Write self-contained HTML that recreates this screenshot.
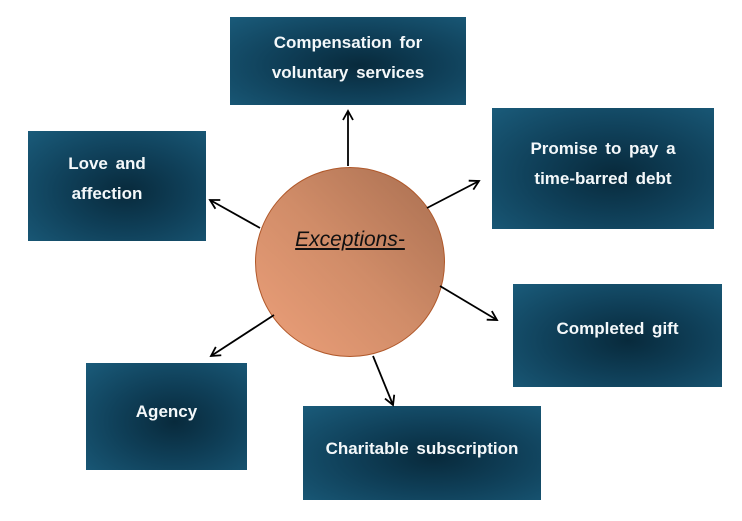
<!DOCTYPE html>
<html><head><style>
body{margin:0;width:742px;height:521px;background:#fff;position:relative;overflow:hidden;font-family:"Liberation Sans",sans-serif}
.b{position:absolute;background:radial-gradient(ellipse at 55% 55%,#082a3c 0%,#0f3f58 45%,#1a5b7a 100%);color:#f4f8fa;font-weight:bold;font-size:17px;line-height:30px;display:flex;align-items:center;justify-content:center;text-align:center;word-spacing:3px}
.c{position:absolute;left:255px;top:167px;width:188px;height:188px;border-radius:50%;border:1.5px solid #b0582a;background:linear-gradient(225deg,#a86e50 0%,#d08c68 50%,#eda07a 100%)}
.t{position:absolute;left:255px;top:228px;width:190px;text-align:center;font-style:italic;font-size:21px;text-decoration:underline;color:#111}
svg{position:absolute;left:0;top:0}
</style></head><body>
<div class="b" style="left:230px;top:17px;width:236px;height:88px;padding-bottom:6px;box-sizing:border-box">Compensation for<br>voluntary services</div>
<div class="b" style="left:492px;top:108px;width:222px;height:121px;padding-bottom:10px;box-sizing:border-box">Promise to pay a<br>time-barred debt</div>
<div class="b" style="left:28px;top:131px;width:178px;height:110px;padding-bottom:14px;padding-right:20px;box-sizing:border-box">Love and<br>affection</div>
<div class="b" style="left:513px;top:284px;width:209px;height:103px;padding-bottom:14px;box-sizing:border-box">Completed gift</div>
<div class="b" style="left:86px;top:363px;width:161px;height:107px;padding-bottom:10px;box-sizing:border-box">Agency</div>
<div class="b" style="left:303px;top:406px;width:238px;height:94px;padding-bottom:8px;box-sizing:border-box">Charitable subscription</div>
<div class="c"></div>
<div class="t">Exceptions-</div>
<svg width="742" height="521"><defs><marker id="a" markerWidth="12" markerHeight="12" refX="10" refY="6" orient="auto" markerUnits="userSpaceOnUse"><path d="M1,1 L10,6 L1,11" fill="none" stroke="#000" stroke-width="1.8"/></marker></defs>
<g stroke="#000" stroke-width="1.8" marker-end="url(#a)">
<line x1="348" y1="166" x2="348" y2="111"/>
<line x1="427" y1="208" x2="479" y2="181"/>
<line x1="260" y1="228" x2="210" y2="200"/>
<line x1="440" y1="286" x2="497" y2="320"/>
<line x1="274" y1="315" x2="211" y2="356"/>
<line x1="373" y1="356" x2="393" y2="405"/>
</g></svg>
</body></html>
